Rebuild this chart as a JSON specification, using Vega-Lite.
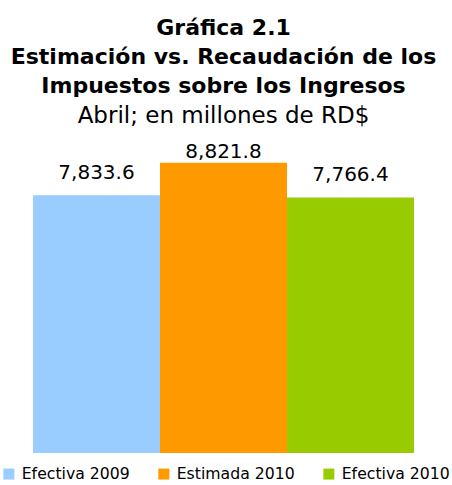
{
  "$schema": "https://vega.github.io/schema/vega-lite/v6.json",
  "autosize": "none",
  "width": 381,
  "height": 318,
  "padding": {"left": 33, "top": 135, "right": 38, "bottom": 32},
  "background": "white",
  "title": {
    "text": ["Gráfica 2.1", "Estimación vs. Recaudación de los", "Impuestos sobre los Ingresos"],
    "subtitle": "Abril; en millones de RD$",
    "anchor": "middle",
    "font": "DejaVu Sans",
    "fontSize": 22,
    "fontWeight": "bold",
    "lineHeight": 29,
    "color": "black",
    "subtitleFont": "DejaVu Sans",
    "subtitleFontSize": 23,
    "subtitleColor": "black",
    "subtitleLineHeight": 29,
    "subtitlePadding": 7,
    "offset": 6
  },
  "data": {
    "values": [
      {"serie": "Efectiva 2009", "valor": 7833.6, "etiqueta": "7,833.6"},
      {"serie": "Estimada 2010", "valor": 8821.8, "etiqueta": "8,821.8"},
      {"serie": "Efectiva 2010", "valor": 7766.4, "etiqueta": "7,766.4"}
    ]
  },
  "encoding": {
    "x": {
      "field": "serie",
      "type": "nominal",
      "sort": ["Efectiva 2009", "Estimada 2010", "Efectiva 2010"],
      "scale": {"paddingInner": 0, "paddingOuter": 0},
      "axis": null
    },
    "y": {
      "field": "valor",
      "type": "quantitative",
      "scale": {"domain": [0, 9666], "nice": false, "zero": true},
      "axis": null
    }
  },
  "layer": [
    {
      "mark": {"type": "bar"},
      "encoding": {
        "color": {
          "field": "serie",
          "type": "nominal",
          "scale": {
            "domain": ["Efectiva 2009", "Estimada 2010", "Efectiva 2010"],
            "range": ["#99CCFF", "#FF9900", "#99CC00"]
          },
          "legend": {
            "orient": "none",
            "direction": "horizontal",
            "legendX": -32,
            "legendY": 331,
            "title": null,
            "symbolType": "square",
            "symbolSize": 121,
            "symbolStrokeWidth": 0,
            "labelFont": "DejaVu Sans",
            "labelFontSize": 15.7,
            "labelColor": "black",
            "labelOffset": 5,
            "columnPadding": 26,
            "labelLimit": 300,
            "padding": 0
          }
        }
      }
    },
    {
      "transform": [{"filter": "datum.serie !== 'Estimada 2010'"}],
      "mark": {"type": "text", "baseline": "alphabetic", "dy": -16, "font": "DejaVu Sans", "fontSize": 20, "color": "black"},
      "encoding": {"text": {"field": "etiqueta"}}
    },
    {
      "transform": [{"filter": "datum.serie === 'Estimada 2010'"}],
      "mark": {"type": "text", "baseline": "alphabetic", "dy": -5, "font": "DejaVu Sans", "fontSize": 20, "color": "black", "clip": false},
      "encoding": {"text": {"field": "etiqueta"}}
    }
  ],
  "config": {
    "view": {"stroke": null},
    "font": "DejaVu Sans"
  }
}
